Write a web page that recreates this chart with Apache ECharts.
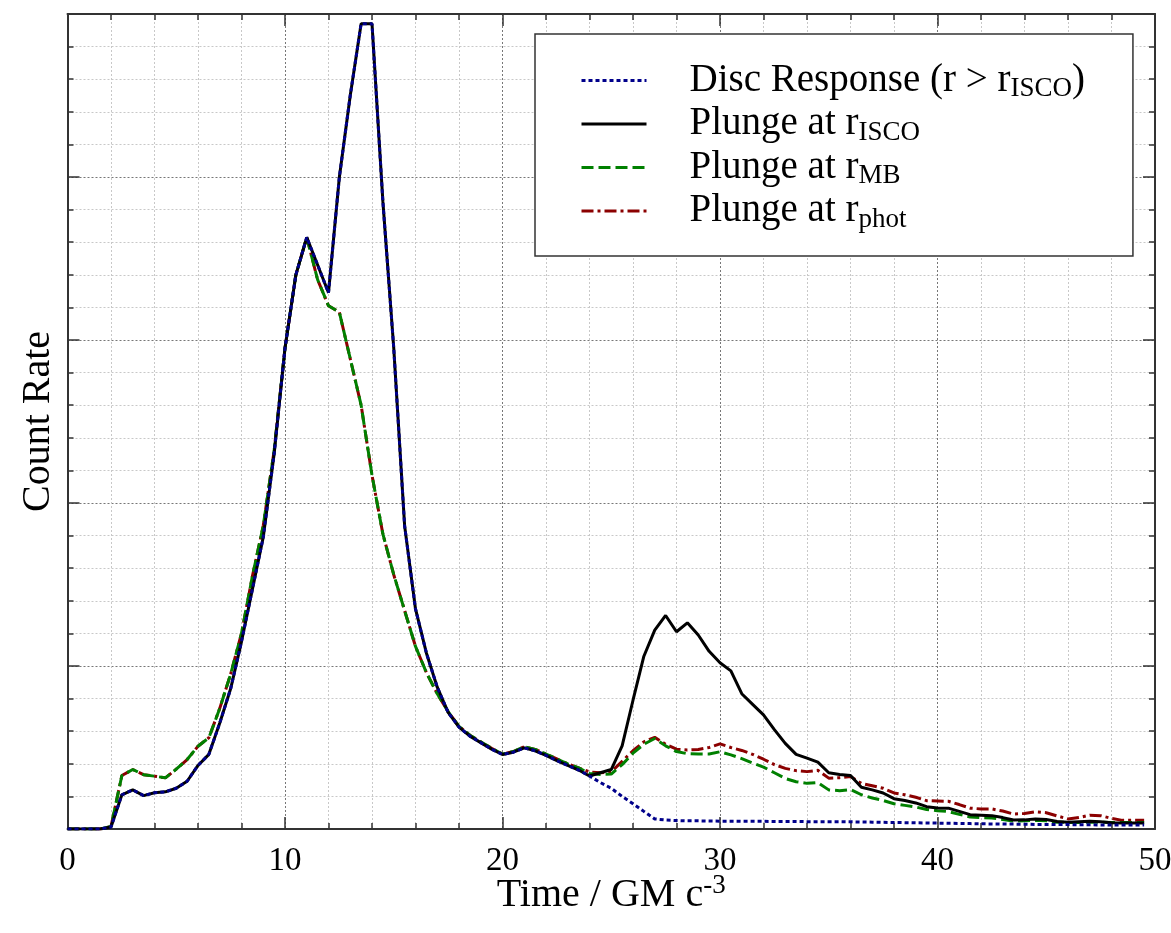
<!DOCTYPE html>
<html>
<head>
<meta charset="utf-8">
<script src="https://cdn.jsdelivr.net/npm/echarts@6/dist/echarts.min.js"></script>
<style>
html,body{margin:0;padding:0;background:#fff;}
#chart{width:1171px;height:933px;}
</style>
</head>
<body>
<div id="chart"></div>
<script>
// Time samples (GM c^-3)
var times = [0,0.5,1,1.5,2,2.5,3,3.5,4,4.5,5,5.5,6,6.5,7,7.5,8,8.5,9,9.5,10,10.5,11,11.5,12,12.5,13,13.5,14,14.5,15,15.5,16,16.5,17,17.5,18,18.5,19,19.5,20,20.5,21,21.5,22,22.5,23,23.5,24,24.5,25,25.5,26,26.5,27,27.5,28,28.5,29,29.5,30,30.5,31,31.5,32,32.5,33,33.5,34,34.5,35,35.5,36,36.5,37,37.5,38,38.5,39,39.5,40,40.5,41,41.5,42,42.5,43,43.5,44,44.5,45,45.5,46,46.5,47,47.5,48,48.5,49,49.5];

var discResponse = [
  0,0,0,0,0.012,0.21,0.24,0.205,0.222,0.228,
  0.25,0.293,0.39,0.458,0.65,0.86,1.15,1.47,1.79,2.3,
  2.95,3.4,3.63,3.46,3.29,4.0,4.5,4.94,4.94,3.85,
  2.95,1.86,1.35,1.08,0.87,0.715,0.625,0.57,0.53,0.49,
  0.457,0.471,0.498,0.48,0.452,0.42,0.39,0.362,0.325,0.285,
  0.25,0.2,0.155,0.108,0.062,0.055,0.052,0.05,0.05,0.049,
  0.048,0.048,0.047,0.047,0.047,0.046,0.046,0.046,0.045,0.045,
  0.045,0.045,0.044,0.043,0.042,0.041,0.04,0.039,0.038,0.037,
  0.036,0.035,0.034,0.033,0.032,0.031,0.03,0.03,0.029,0.028,
  0.028,0.027,0.027,0.026,0.026,0.025,0.025,0.025,0.024,0.024
];

var plungeISCO = [
  0,0,0,0,0.012,0.21,0.24,0.205,0.222,0.228,
  0.25,0.293,0.39,0.458,0.65,0.86,1.15,1.47,1.79,2.3,
  2.95,3.4,3.63,3.46,3.29,4.0,4.5,4.94,4.94,3.85,
  2.95,1.86,1.35,1.08,0.87,0.715,0.625,0.57,0.53,0.49,
  0.457,0.471,0.498,0.48,0.452,0.42,0.39,0.362,0.325,0.345,
  0.365,0.51,0.79,1.06,1.22,1.31,1.21,1.265,1.19,1.09,
  1.02,0.97,0.83,0.765,0.70,0.61,0.525,0.458,0.435,0.41,
  0.345,0.335,0.328,0.256,0.24,0.221,0.186,0.175,0.16,0.137,
  0.129,0.128,0.108,0.088,0.085,0.082,0.07,0.055,0.056,0.062,
  0.058,0.046,0.041,0.044,0.047,0.044,0.039,0.037,0.037,0.037
];

var plungeMB = [
  0,0,0,0,0.015,0.328,0.365,0.333,0.324,0.314,
  0.367,0.426,0.508,0.56,0.74,0.95,1.2,1.55,1.86,2.32,
  2.95,3.4,3.63,3.37,3.21,3.17,2.885,2.6,2.17,1.81,
  1.56,1.34,1.12,0.96,0.83,0.72,0.63,0.575,0.535,0.495,
  0.46,0.475,0.505,0.488,0.46,0.43,0.4,0.375,0.34,0.335,
  0.337,0.395,0.465,0.52,0.555,0.51,0.475,0.462,0.46,0.46,
  0.474,0.455,0.432,0.405,0.38,0.345,0.31,0.29,0.28,0.285,
  0.24,0.235,0.242,0.21,0.19,0.175,0.155,0.145,0.135,0.12,
  0.112,0.107,0.09,0.074,0.07,0.068,0.058,0.048,0.05,0.053,
  0.05,0.042,0.04,0.04,0.041,0.041,0.04,0.04,0.04,0.04
];

var plungePhot = [
  0,0,0,0,0.015,0.328,0.365,0.333,0.324,0.314,
  0.367,0.426,0.508,0.56,0.74,0.95,1.2,1.55,1.86,2.32,
  2.95,3.4,3.63,3.37,3.21,3.17,2.885,2.6,2.17,1.81,
  1.56,1.34,1.12,0.96,0.83,0.72,0.63,0.575,0.535,0.495,
  0.46,0.475,0.505,0.488,0.46,0.43,0.4,0.375,0.35,0.345,
  0.35,0.415,0.48,0.535,0.562,0.52,0.49,0.485,0.488,0.50,
  0.522,0.50,0.482,0.458,0.428,0.395,0.372,0.358,0.352,0.36,
  0.312,0.315,0.322,0.28,0.265,0.25,0.221,0.21,0.195,0.174,
  0.172,0.17,0.15,0.128,0.123,0.123,0.11,0.092,0.095,0.105,
  0.1,0.08,0.062,0.07,0.085,0.082,0.065,0.053,0.053,0.053
];

var seriesNames = ['Disc Response (r > rISCO)', 'Plunge at rISCO', 'Plunge at rMB', 'Plunge at rphot'];
var legendRich = {
  'Disc Response (r > rISCO)': '{t|Disc Response (r > r}{s|ISCO}{t|)}',
  'Plunge at rISCO': '{t|Plunge at r}{s|ISCO}',
  'Plunge at rMB': '{t|Plunge at r}{s|MB}',
  'Plunge at rphot': '{t|Plunge at r}{s|phot}'
};

function pairs(vals) { return vals.map(function (v, i) { return [times[i], v]; }); }

var FONT = 'Liberation Serif';
var chart = echarts.init(document.getElementById('chart'), null, {renderer: 'canvas'});

function xAxisBase(pos, showLabel) {
  return {
    type: 'value', position: pos, min: 0, max: 50, interval: 10,
    axisLine: {show: true, onZero: false, lineStyle: {color: '#333', width: 2}},
    axisTick: {show: true, inside: true, length: 12, lineStyle: {color: '#333', width: 1.5}},
    minorTick: {show: true, splitNumber: 5, length: 6, lineStyle: {color: '#333', width: 1.5}},
    axisLabel: {show: showLabel, color: '#000', fontFamily: FONT, fontSize: 33, margin: 16},
    splitLine: {show: showLabel, lineStyle: {color: '#777', type: [2, 2], width: 1}},
    minorSplitLine: {show: showLabel, lineStyle: {color: '#c8c8c8', type: [2, 2], width: 1}}
  };
}
function yAxisBase(pos, main) {
  return {
    type: 'value', position: pos, min: 0, max: 5, interval: 1,
    axisLine: {show: true, onZero: false, lineStyle: {color: '#333', width: 2}},
    axisTick: {show: true, inside: true, length: 12, lineStyle: {color: '#333', width: 1.5}},
    minorTick: {show: true, splitNumber: 5, length: 6, lineStyle: {color: '#333', width: 1.5}},
    axisLabel: {show: false},
    splitLine: {show: main, lineStyle: {color: '#777', type: [2, 2], width: 1}},
    minorSplitLine: {show: main, lineStyle: {color: '#c8c8c8', type: [2, 2], width: 1}}
  };
}

var xMain = xAxisBase('bottom', true);
xMain.name = '{a|Time / GM c}{b|-3}';
xMain.nameLocation = 'middle';
xMain.nameGap = 43;
xMain.nameMoveOverlap = false;
xMain.nameTextStyle = {
  color: '#000', fontFamily: FONT, fontSize: 40,
  rich: {
    a: {color: '#000', fontFamily: FONT, fontSize: 40, lineHeight: 46},
    b: {color: '#000', fontFamily: FONT, fontSize: 27, lineHeight: 27, verticalAlign: 'top'}
  }
};
var xTop = xAxisBase('top', false);

var yMain = yAxisBase('left', true);
yMain.name = 'Count Rate';
yMain.nameLocation = 'middle';
yMain.nameGap = 9;
yMain.nameMoveOverlap = false;
yMain.nameTextStyle = {color: '#000', fontFamily: FONT, fontSize: 40};
var yRight = yAxisBase('right', false);

var option = {
  animation: false,
  backgroundColor: '#fff',
  grid: {left: 67.5, right: 16, top: 14, bottom: 104, containLabel: false, outerBoundsMode: 'none'},
  xAxis: [xMain, xTop],
  yAxis: [yMain, yRight],
  legend: {
    show: true,
    orient: 'vertical',
    left: 535, top: 34,
    selectedMode: false,
    data: seriesNames,
    itemWidth: 65, itemHeight: 14, itemGap: 2,
    itemStyle: {opacity: 0},
    lineStyle: {width: 3},
    padding: [27, 48, 23, 45],
    backgroundColor: '#fff',
    borderColor: '#333', borderWidth: 1.5,
    formatter: function (n) { return legendRich[n]; },
    textStyle: {
      color: '#000', fontFamily: FONT, fontSize: 39, padding: [0, 0, 0, 38],
      rich: {
        t: {color: '#000', fontFamily: FONT, fontSize: 39, lineHeight: 44},
        s: {color: '#000', fontFamily: FONT, fontSize: 27, lineHeight: 24, verticalAlign: 'bottom'}
      }
    }
  },
  series: [
    {name: seriesNames[3], type: 'line', xAxisIndex: 0, yAxisIndex: 0, symbol: 'none', showSymbol: false,
     data: pairs(plungePhot), color: '#8b0000',
     lineStyle: {color: '#8b0000', width: 3, type: [12, 4, 3, 4]}},
    {name: seriesNames[2], type: 'line', xAxisIndex: 0, yAxisIndex: 0, symbol: 'none', showSymbol: false,
     data: pairs(plungeMB), color: '#008000',
     lineStyle: {color: '#008000', width: 3, type: [12, 5]}},
    {name: seriesNames[1], type: 'line', xAxisIndex: 0, yAxisIndex: 0, symbol: 'none', showSymbol: false,
     data: pairs(plungeISCO), color: '#000000',
     lineStyle: {color: '#000000', width: 3, type: 'solid'}},
    {name: seriesNames[0], type: 'line', xAxisIndex: 0, yAxisIndex: 0, symbol: 'none', showSymbol: false,
     data: pairs(discResponse), color: '#00008b',
     lineStyle: {color: '#00008b', width: 3, type: [4, 3]}}
  ]
};
chart.setOption(option);
</script>
</body>
</html>
